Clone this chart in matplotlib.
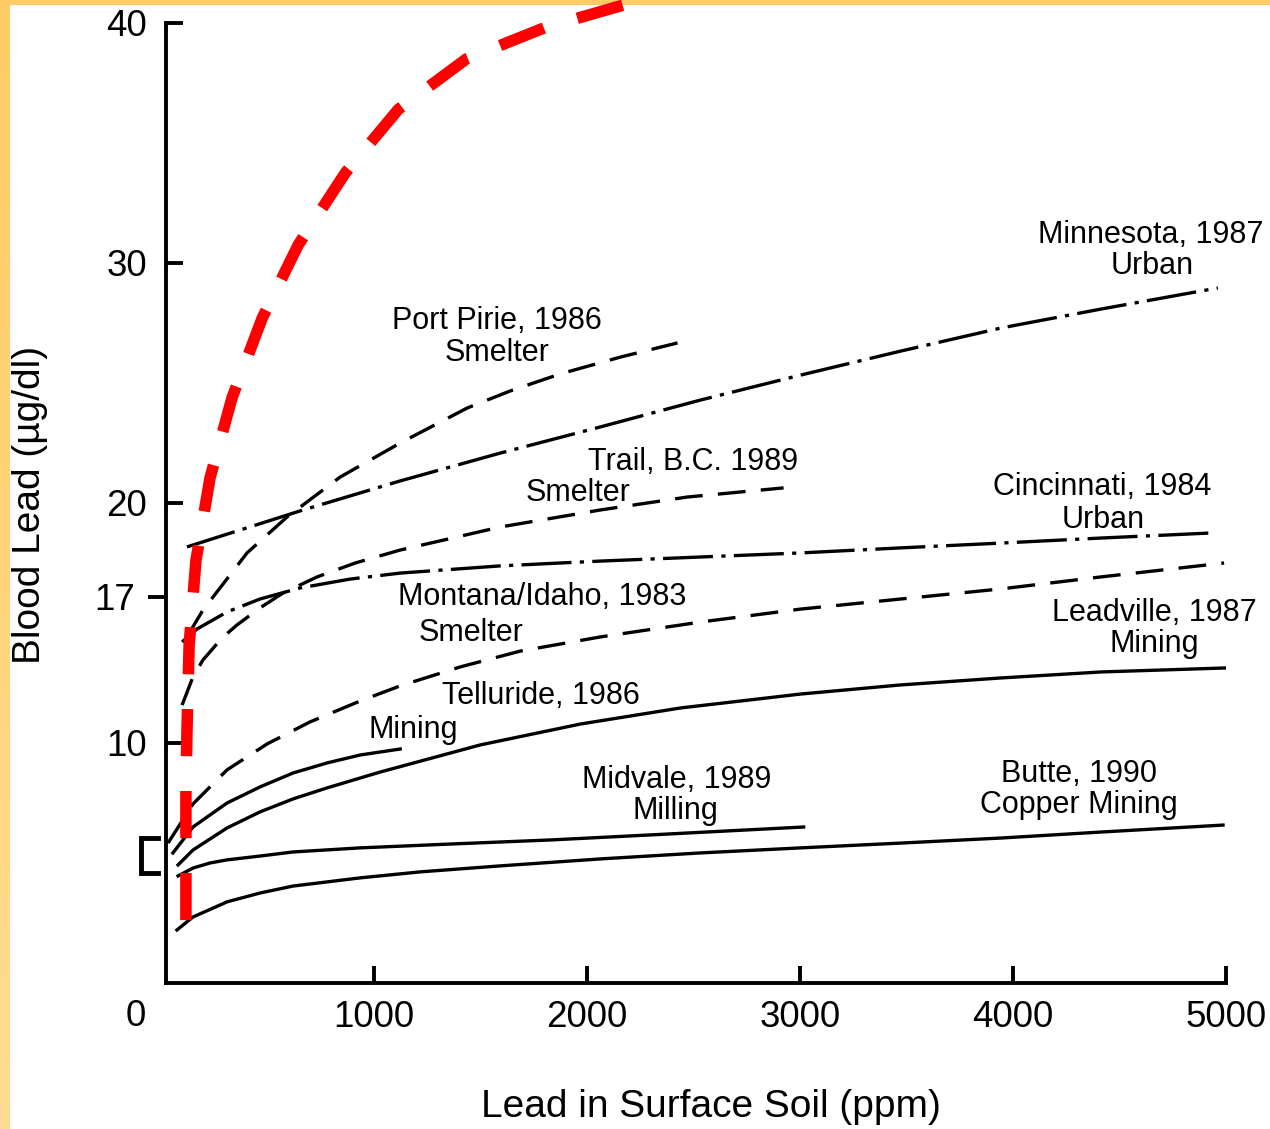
import matplotlib
matplotlib.use("Agg")
import matplotlib.pyplot as plt
import numpy as np

plt.rcParams["font.family"] = ["Liberation Sans", "DejaVu Sans"]
plt.rcParams["lines.scale_dashes"] = False

# soil lead (ppm) vs blood lead (ug/dl)
minnesota_x = [122, 653, 1123, 1593, 2063, 2533, 3003, 3473, 3943, 4413, 4962]
minnesota_y = [18.17, 19.67, 20.92, 22.08, 23.17, 24.29, 25.33, 26.33, 27.29, 28.08, 28.96]

port_pirie_x = [127, 197, 277, 404, 592, 841, 1123, 1438, 1640, 1875, 2157, 2425]
port_pirie_y = [14.5, 15.54, 16.46, 17.92, 19.42, 21.08, 22.5, 23.96, 24.67, 25.38, 26.08, 26.67]

cincinnati_x = [99, 169, 310, 465, 653, 888, 1123, 1593, 2063, 2533, 3003, 3473, 3943, 4413, 4929]
cincinnati_y = [14.21, 14.75, 15.46, 16.0, 16.46, 16.83, 17.08, 17.38, 17.58, 17.75, 17.92, 18.13, 18.33, 18.54, 18.75]

trail_x = [99, 150, 197, 287, 357, 465, 573, 733, 912, 1123, 1593, 2063, 2472, 2923]
trail_y = [11.58, 12.75, 13.46, 14.38, 14.92, 15.63, 16.25, 16.92, 17.5, 18.04, 19.0, 19.71, 20.25, 20.63]

montana_x = [33, 150, 310, 498, 700, 935, 1123, 1405, 1687, 2063, 2533, 3003, 3473, 3943, 4413, 4991]
montana_y = [5.83, 7.46, 8.88, 9.96, 10.88, 11.75, 12.38, 13.17, 13.83, 14.42, 15.04, 15.58, 16.0, 16.42, 16.92, 17.5]

telluride_x = [56, 150, 310, 465, 620, 780, 935, 1123]
telluride_y = [5.42, 6.5, 7.5, 8.17, 8.75, 9.17, 9.5, 9.75]

leadville_x = [80, 150, 310, 465, 620, 780, 1029, 1499, 1969, 2439, 3003, 3473, 3943, 4413, 5009]
leadville_y = [4.92, 5.54, 6.46, 7.13, 7.67, 8.13, 8.79, 9.92, 10.79, 11.46, 12.04, 12.42, 12.71, 12.96, 13.13]

midvale_x = [80, 150, 230, 310, 465, 620, 935, 1358, 1828, 2298, 3017]
midvale_y = [4.46, 4.79, 5.0, 5.13, 5.29, 5.46, 5.63, 5.79, 5.96, 6.17, 6.5]

butte_x = [75, 150, 310, 465, 620, 935, 1217, 1593, 2063, 2533, 3003, 3473, 3943, 4413, 4986]
butte_y = [2.21, 2.75, 3.38, 3.75, 4.04, 4.38, 4.63, 4.88, 5.17, 5.42, 5.63, 5.83, 6.04, 6.29, 6.58]

red_x = [117, 117, 117, 122, 132, 164, 230, 334, 475, 644, 865, 1114, 1433, 1800, 2171, 2450]
red_y = [2.62, 4.71, 8.04, 10.54, 14.08, 17.6, 21.04, 24.4, 27.7, 30.75, 33.75, 36.4, 38.5, 39.8, 40.75, 41.2]

# (text, x ppm, y ug/dl)
labels = [
    ("Port Pirie, 1986", 1579, 27.71), ("Smelter", 1579, 26.38),
    ("Trail, B.C. 1989", 2500, 21.83), ("Smelter", 1960, 20.54),
    ("Minnesota, 1987", 4648, 31.29), ("Urban", 4652, 30.0),
    ("Cincinnati, 1984", 4417, 20.79), ("Urban", 4422, 19.42),
    ("Montana/Idaho, 1983", 1790, 16.21), ("Smelter", 1457, 14.71),
    ("Telluride, 1986", 1786, 12.08), ("Mining", 1184, 10.67),
    ("Midvale, 1989", 2420, 8.58), ("Milling", 2415, 7.29),
    ("Leadville, 1987", 4662, 15.54), ("Mining", 4662, 14.25),
    ("Butte, 1990", 4309, 8.83), ("Copper Mining", 4309, 7.54),
]

x_ticks = [1000, 2000, 3000, 4000, 5000]
y_ticks = [10, 20, 30, 40]

dashed = (0, (20, 11))
dashdot = (0, (36, 6, 3, 6))

fig = plt.figure(figsize=(12.7, 11.29), dpi=100)

# yellow frame on the left and top edges
grad = np.linspace(0, 1, 256).reshape(-1, 1)
cmap = matplotlib.colors.LinearSegmentedColormap.from_list("frame", ["#ffcb66", "#ffdc92"])
left = fig.add_axes([0, 0, 10 / 1270, 1], zorder=-2)
left.imshow(grad, aspect="auto", cmap=cmap)
left.axis("off")
top = fig.add_axes([0, 1 - 5 / 1129, 1, 5 / 1129], zorder=-2)
top.axis("off")
top.add_patch(plt.Rectangle((0, 0), 1, 1, color="#ffcb66", transform=top.transAxes))

ax = fig.add_axes([161 / 1270, (1129 - 983) / 1129, (1226 - 161) / 1270, 983 / 1129])
ax.patch.set_visible(False)
ax.set_xlim(0, 5000)
ax.set_ylim(0, 983 / 24)

lw = 2.4
ax.plot(minnesota_x, minnesota_y, color="black", lw=lw, linestyle=dashdot)
ax.plot(port_pirie_x, port_pirie_y, color="black", lw=lw, linestyle=dashed)
ax.plot(cincinnati_x, cincinnati_y, color="black", lw=lw, linestyle=dashdot)
ax.plot(trail_x, trail_y, color="black", lw=lw, linestyle=dashed)
ax.plot(montana_x, montana_y, color="black", lw=lw, linestyle=dashed)
ax.plot(telluride_x, telluride_y, color="black", lw=lw)
ax.plot(leadville_x, leadville_y, color="black", lw=lw)
ax.plot(midvale_x, midvale_y, color="black", lw=lw)
ax.plot(butte_x, butte_y, color="black", lw=lw)
ax.plot(red_x, red_y, color="#ff0000", lw=8.3, linestyle=(0, (34, 25)),
        solid_capstyle="butt", dash_capstyle="butt", zorder=5)

for text, x, y in labels:
    ax.annotate(text, xy=(x, y), xytext=(0, -3), textcoords="offset pixels",
                fontsize=22, ha="center", va="center")

# spines
for side in ["top", "right"]:
    ax.spines[side].set_visible(False)
ax.spines["left"].set_position(("data", 23))
ax.spines["left"].set_bounds(0, 40)
ax.spines["bottom"].set_bounds(23, 5000)
for side in ["left", "bottom"]:
    ax.spines[side].set_linewidth(2.8)

ax.set_xticks(x_ticks)
ax.set_xticklabels([str(t) for t in x_ticks])
ax.set_yticks(y_ticks)
ax.set_yticklabels([str(t) for t in y_ticks])
ax.tick_params(axis="both", which="major", direction="in", length=12, width=2.8, labelsize=26.5)
ax.tick_params(axis="x", pad=12)
ax.tick_params(axis="y", pad=13.5)
# the "17" tick sits a little off scale in the original and points outward
ax.set_yticks([16.1], minor=True)
ax.set_yticklabels(["17"], minor=True)
ax.tick_params(axis="y", which="minor", direction="out", length=13, width=2.8, labelsize=26.5, pad=9)
ax.annotate("0", xy=(0, 0), xytext=(-25, -33), textcoords="offset pixels",
            ha="center", va="center", fontsize=26.5)

# bracket at the low end of the y axis
ax.plot([-14, -94, -94, -14], [6.04, 6.04, 4.58, 4.58], color="black", lw=3.5,
        clip_on=False, solid_joinstyle="miter")

fig.text(711 / 1270, 1 - 1107 / 1129, "Lead in Surface Soil (ppm)", ha="center", va="center", fontsize=28)
fig.text(30 / 1270, 1 - 505 / 1129, "Blood Lead (µg/dl)", ha="center", va="center", fontsize=28, rotation=90)

fig.savefig("out.png", dpi=100)
